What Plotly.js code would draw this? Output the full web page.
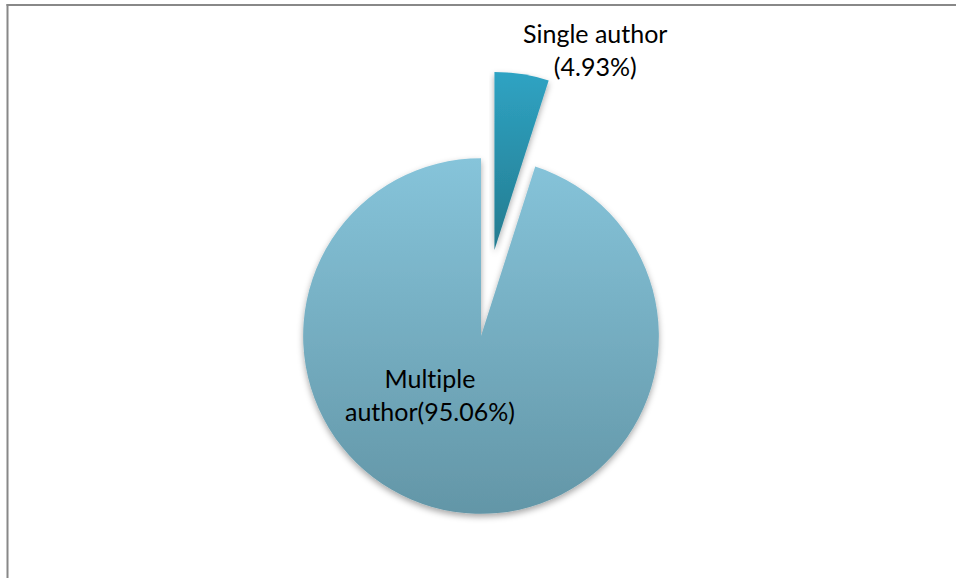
<!DOCTYPE html>
<html>
<head>
<meta charset="utf-8">
<script src="https://cdn.plot.ly/plotly-3.0.1.min.js"></script>
<style>
  html, body { margin: 0; padding: 0; width: 956px; height: 578px; overflow: hidden; background: #fff; }
  #chart { width: 956px; height: 700px; }
  #chart text { font-variant-ligatures: none; font-feature-settings: "liga" 0; }
</style>
</head>
<body>
<div id="chart"></div>
<script>
// ---- data ----
var categories = ['Single author', 'Multiple author'];
var shares = [4.93, 95.06];
var labelLines = [['Single author', '(' + shares[0].toFixed(2) + '%)'],
                  ['Multiple', 'author(' + shares[1].toFixed(2) + '%)']];
var sliceColors = ['#2A91AB', '#78AEC1'];
var gradTop = ['#2FA3C3', '#86C4DA'];
var gradBottom = ['#247B8F', '#6396A7'];
var pulls = [0.49, 0];

// ---- layout helpers (pixel -> paper for a 956x700 canvas) ----
var W = 956, H = 700;
function px(x) { return x / W; }
function py(y) { return 1 - y / H; }

var FONT = 'Lato, "Open Sans", sans-serif';

var trace = {
  type: 'pie',
  labels: categories,
  values: shares,
  sort: false,
  direction: 'clockwise',
  rotation: 0,
  pull: pulls,
  textinfo: 'none',
  hoverinfo: 'label+percent',
  showlegend: false,
  marker: { colors: sliceColors, line: { width: 0 } },
  domain: { x: [px(216), px(746)], y: [py(601), py(71)] }
};

var layout = {
  width: W, height: H,
  margin: { l: 0, r: 0, t: 0, b: 0 },
  paper_bgcolor: '#ffffff',
  plot_bgcolor: '#ffffff',
  showlegend: false,
  font: { family: FONT, color: '#000000', size: 25 },
  shapes: [
    { type: 'line', xref: 'paper', yref: 'paper', x0: px(6.5), x1: 1, y0: py(5), y1: py(5),
      line: { color: '#888888', width: 2 } },
    { type: 'line', xref: 'paper', yref: 'paper', x0: px(7.5), x1: px(7.5), y0: py(4), y1: 0,
      line: { color: '#888888', width: 2 } }
  ],
  annotations: [
    { xref: 'paper', yref: 'paper', x: px(595), y: py(49), xanchor: 'center', yanchor: 'middle',
      text: labelLines[0].join('<br>'), showarrow: false, align: 'center',
      font: { family: FONT, size: 25, color: '#000' } },
    { xref: 'paper', yref: 'paper', x: px(430), y: py(394), xanchor: 'center', yanchor: 'middle',
      text: labelLines[1].join('<br>'), showarrow: false, align: 'center',
      font: { family: FONT, size: 25, color: '#000' } }
  ]
};

Plotly.newPlot('chart', [trace], layout, { displayModeBar: false, staticPlot: true }).then(function (gd) {
  // vertical gradient fill + soft shadow on the slices drawn by Plotly
  var svg = gd.querySelector('svg.main-svg');
  var ns = 'http://www.w3.org/2000/svg';
  var defs = svg.querySelector('defs') || svg.insertBefore(document.createElementNS(ns, 'defs'), svg.firstChild);
  var filt = document.createElementNS(ns, 'filter');
  filt.setAttribute('id', 'sliceShadow');
  filt.setAttribute('x', '-10%'); filt.setAttribute('y', '-10%');
  filt.setAttribute('width', '120%'); filt.setAttribute('height', '125%');
  var ds = document.createElementNS(ns, 'feDropShadow');
  ds.setAttribute('dx', '0'); ds.setAttribute('dy', '3');
  ds.setAttribute('stdDeviation', '3'); ds.setAttribute('flood-color', '#000');
  ds.setAttribute('flood-opacity', '0.35');
  filt.appendChild(ds);
  defs.appendChild(filt);
  var paths = gd.querySelectorAll('.slice path.surface');
  paths.forEach(function (p, i) {
    var g = document.createElementNS(ns, 'linearGradient');
    g.setAttribute('id', 'sliceGrad' + i);
    g.setAttribute('x1', '0'); g.setAttribute('y1', '0');
    g.setAttribute('x2', '0'); g.setAttribute('y2', '1');
    [[0, gradTop[i]], [1, gradBottom[i]]].forEach(function (s) {
      var st = document.createElementNS(ns, 'stop');
      st.setAttribute('offset', s[0]);
      st.setAttribute('stop-color', s[1]);
      g.appendChild(st);
    });
    defs.appendChild(g);
    p.style.fill = 'url(#sliceGrad' + i + ')';
    p.setAttribute('filter', 'url(#sliceShadow)');
  });
});
</script>
</body>
</html>
